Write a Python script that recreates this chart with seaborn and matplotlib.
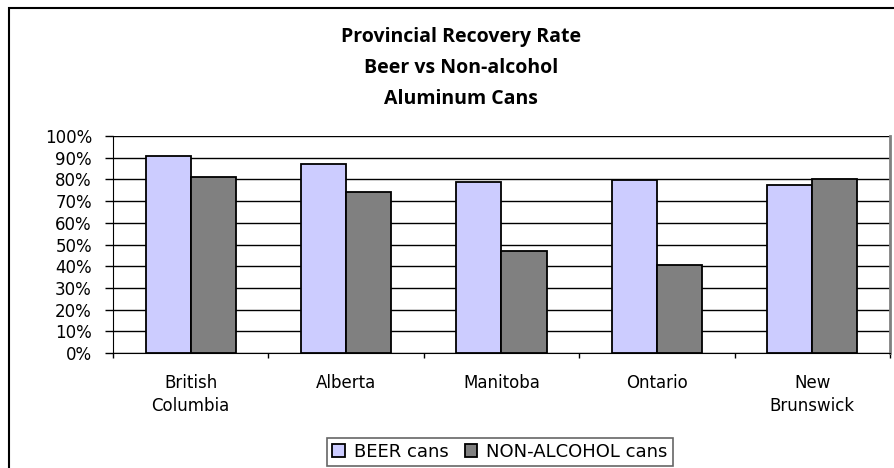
import matplotlib
matplotlib.use("Agg")
import matplotlib.pyplot as plt
import seaborn as sns
import pandas as pd
from matplotlib.ticker import FixedLocator, NullFormatter, PercentFormatter

provinces = ["British\nColumbia", "Alberta", "Manitoba", "Ontario", "New\nBrunswick"]
beer = [91, 87, 79, 79.5, 77.5]
non_alcohol = [81, 74, 47, 40.5, 80]
series_names = ["BEER cans", "NON-ALCOHOL cans"]
colors = ["#CCCCFF", "#808080"]
yticks = list(range(0, 101, 10))

df = pd.DataFrame({
    "Province": provinces * 2,
    "Rate": beer + non_alcohol,
    "Series": [series_names[0]] * len(provinces) + [series_names[1]] * len(provinces),
})

sns.set_style("white")
plt.rcParams["font.family"] = ["DejaVu Sans"]
plt.rcParams["text.color"] = "black"
plt.rcParams["xtick.color"] = "black"
plt.rcParams["ytick.color"] = "black"

fig = plt.figure(figsize=(8.95, 4.68), dpi=100)
ax = fig.add_axes([113 / 895, 1 - 353 / 468, (890 - 113) / 895, (353 - 136) / 468])

sns.barplot(data=df, x="Province", y="Rate", hue="Series", order=provinces,
            hue_order=series_names, palette=colors, saturation=1, width=0.58,
            edgecolor="black", linewidth=1.3, ax=ax, legend=True, zorder=3)

ax.set_ylim(0, 100)
ax.set_xlim(-0.5, len(provinces) - 0.5)
ax.set_yticks(yticks)
ax.yaxis.set_major_formatter(PercentFormatter(decimals=0))
ax.yaxis.grid(True, color="black", linewidth=1)
ax.set_axisbelow(True)
ax.set_xlabel("")
ax.set_ylabel("")
ax.tick_params(axis="y", direction="out", length=5.8, width=1, color="black",
               labelsize=12, pad=9.4, left=True)
ax.tick_params(axis="x", which="major", length=0, labelsize=12, pad=15)
ax.xaxis.set_minor_locator(FixedLocator([i - 0.5 for i in range(len(provinces) + 1)]))
ax.xaxis.set_minor_formatter(NullFormatter())
ax.tick_params(axis="x", which="minor", direction="out", length=3.8, width=1, color="black", bottom=True)
for lbl in ax.get_xticklabels():
    lbl.set_linespacing(1.37)

ax.spines["top"].set_visible(False)
ax.spines["left"].set_color("black")
ax.spines["bottom"].set_color("black")
ax.spines["right"].set_color("#808080")
ax.spines["right"].set_linewidth(2)

leg = ax.legend(loc="center", bbox_to_anchor=(500 / 895, 1 - 452 / 468),
                bbox_transform=fig.transFigure, ncol=2, frameon=True,
                fontsize=13, handlelength=0.7, handleheight=0.7,
                columnspacing=0.9, handletextpad=0.5, borderpad=0.3,
                fancybox=False, edgecolor="#404040")
leg.get_frame().set_linewidth(1.2)

fig.text(461 / 895, 1 - 68 / 468, "Provincial Recovery Rate\nBeer vs Non-alcohol\nAluminum Cans",
         ha="center", va="center", fontsize=14, fontweight="bold", linespacing=1.72,
         family="Open Sans")

# outer chart frame
fig.add_artist(plt.Rectangle((9 / 895, -0.1), 1.2, 1 - 8 / 468 + 0.1, transform=fig.transFigure,
                             fill=False, edgecolor="black", linewidth=1.5))

fig.savefig("out.png", dpi=100)
